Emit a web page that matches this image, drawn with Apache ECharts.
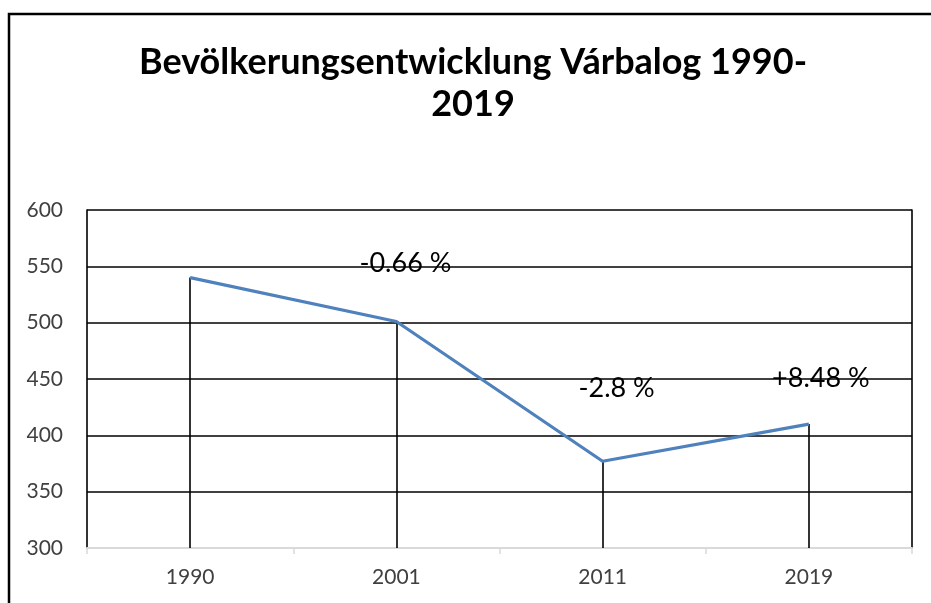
<!DOCTYPE html>
<html>
<head>
<meta charset="utf-8">
<script src="https://cdn.jsdelivr.net/npm/echarts@6/dist/echarts.min.js"></script>
<style>html,body{margin:0;padding:0;background:#fff;}#c{width:931px;height:603px;}</style>
</head>
<body>
<div id="c"></div>
<script>
const titleText = 'Bevölkerungsentwicklung Várbalog 1990-\n2019';
const years = ['1990', '2001', '2011', '2019'];
const population = [540, 501, 377, 410];
const changeLabels = ['', '-0.66 %', '-2.8 %', '+8.48 %'];
const labelOffsets = [[0, 0], [9, -58], [14, -73], [12, -46]];
const yMin = 300, yMax = 600, yStep = 50;

const chart = echarts.init(document.getElementById('c'));
const FONT = 'Lato';
chart.setOption({
  animation: false,
  backgroundColor: '#fff',
  graphic: [{
    type: 'text', silent: true,
    x: 473, y: 41,
    style: {
      text: titleText, fontFamily: FONT, fontWeight: 'bold', fontSize: 36,
      fill: '#000', lineHeight: 42, align: 'center', verticalAlign: 'top'
    }
  }, {
    type: 'rect', silent: true, z: 100,
    shape: { x: 9, y: 14, width: 1000, height: 1000 },
    style: { fill: 'none', stroke: '#000', lineWidth: 2.5 }
  }],
  grid: { left: 87, right: 19, top: 210, bottom: 55, containLabel: false },
  xAxis: {
    type: 'category',
    data: years,
    boundaryGap: true,
    axisLine: { show: true, lineStyle: { color: '#d9d9d9', width: 2 } },
    axisTick: { show: true, length: 6, lineStyle: { color: '#d9d9d9', width: 1.5 } },
    axisLabel: { fontFamily: FONT, fontSize: 21, color: '#404040', margin: 19 },
    splitLine: { show: false }
  },
  yAxis: [{
    type: 'value',
    min: yMin, max: yMax, interval: yStep,
    axisLine: { show: true, lineStyle: { color: '#000', width: 1.6 } },
    axisTick: { show: false },
    axisLabel: { fontFamily: FONT, fontSize: 21, color: '#404040', margin: 24 },
    splitLine: { show: true, lineStyle: { color: ['rgba(0,0,0,0)', '#000', '#000', '#000', '#000', '#000', '#000'], width: 1.6 } }
  }, {
    type: 'value', position: 'right',
    min: yMin, max: yMax, interval: yStep,
    axisLine: { show: true, lineStyle: { color: '#000', width: 1.6 } },
    axisTick: { show: false }, axisLabel: { show: false }, splitLine: { show: false }
  }],
  series: [{
    type: 'line',
    data: population.map((v, i) => ({
      value: v,
      label: {
        show: changeLabels[i] !== '',
        position: 'inside',
        offset: labelOffsets[i],
        formatter: changeLabels[i],
        fontFamily: FONT, fontSize: 27, color: '#000'
      }
    })),
    symbol: 'circle', symbolSize: 1, showSymbol: true,
    itemStyle: { color: 'rgba(0,0,0,0)' },
    lineStyle: { color: '#4F81BD', width: 3.2 },
    z: 5,
    markLine: {
      silent: true, symbol: 'none',
      label: { show: false },
      lineStyle: { color: '#000', width: 1.6, type: 'solid' },
      data: population.map((v, i) => [{ coord: [i, v] }, { coord: [i, yMin] }])
    }
  }]
});
</script>
</body>
</html>
